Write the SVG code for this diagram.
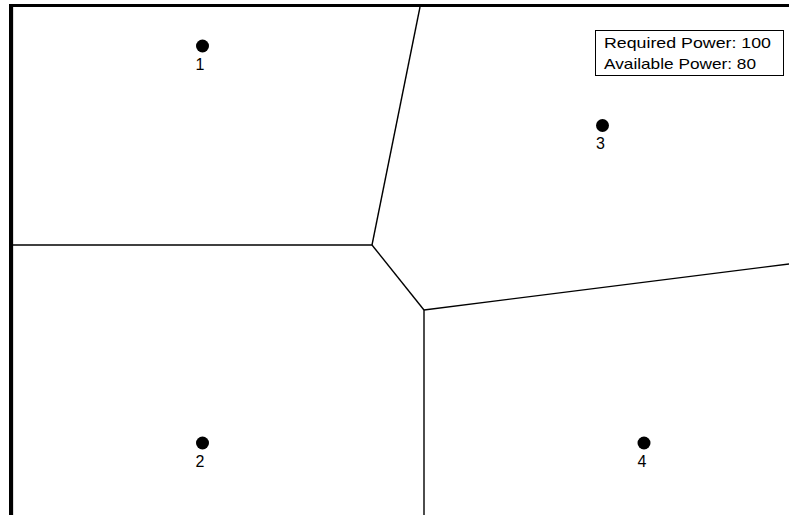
<svg xmlns="http://www.w3.org/2000/svg" width="789" height="515" viewBox="0 0 789 515">
<style>
.edge{fill:none;stroke:#000;stroke-width:1.4}
.dot{fill:#000}
.lbl{font-family:"Liberation Sans",Arial,sans-serif;font-size:16px;fill:#000;text-anchor:middle}
.leg{font-family:"Liberation Sans",Arial,sans-serif;font-size:15px;fill:#000}
</style>
<rect x="0" y="0" width="789" height="515" fill="#fff"/>
<g id="frame">
<rect x="9" y="4" width="780" height="3" fill="#000"/>
<rect x="9" y="4" width="4" height="511" fill="#000"/>
<line x1="13.5" y1="7" x2="13.5" y2="515" stroke="#ddd" stroke-width="1"/>
</g>
<g id="connectors">
<line class="edge" x1="420" y1="7" x2="372" y2="245"/>
<line class="edge" x1="13" y1="245" x2="372" y2="245"/>
<line class="edge" x1="372" y1="245" x2="424" y2="310"/>
<line class="edge" x1="424" y1="310" x2="789" y2="264"/>
<line class="edge" x1="424" y1="310" x2="424" y2="515"/>
</g>
<g id="node1"><circle class="dot" cx="202.5" cy="46" r="6.5"/><text class="lbl" x="200" y="70">1</text></g>
<g id="node2"><circle class="dot" cx="202.5" cy="443" r="6.5"/><text class="lbl" x="200" y="467">2</text></g>
<g id="node3"><circle class="dot" cx="602.5" cy="125.5" r="6.5"/><text class="lbl" x="600.5" y="149">3</text></g>
<g id="node4"><circle class="dot" cx="644" cy="443" r="6.5"/><text class="lbl" x="642" y="467">4</text></g>
<g id="legend">
<rect x="595.5" y="30.5" width="188" height="45" fill="#fff" stroke="#000" stroke-width="1"/>
<text class="leg" x="604" y="47.5" textLength="167" lengthAdjust="spacingAndGlyphs">Required Power: 100</text>
<text class="leg" x="604" y="69" textLength="152" lengthAdjust="spacingAndGlyphs">Available Power: 80</text>
</g>
</svg>
